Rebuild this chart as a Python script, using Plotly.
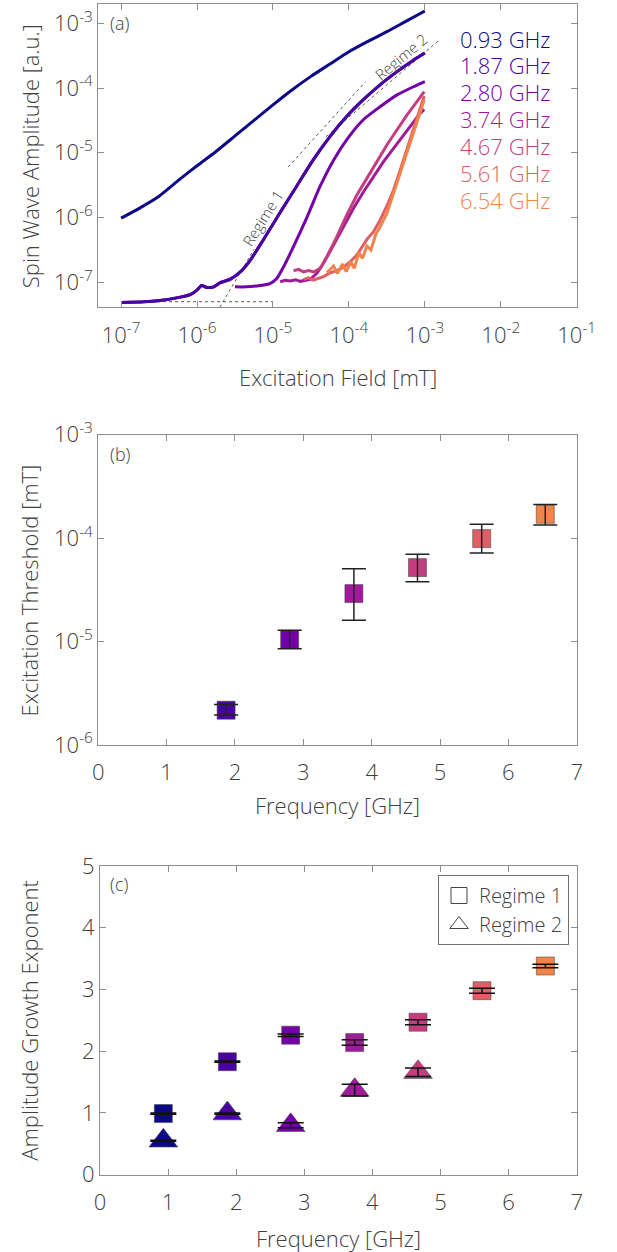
import numpy as np
import plotly.graph_objects as go

# ---------------- data ----------------
freqs = [0.93, 1.87, 2.80, 3.74, 4.67, 5.61, 6.54]
freq_labels = ["0.93 GHz", "1.87 GHz", "2.80 GHz", "3.74 GHz", "4.67 GHz", "5.61 GHz", "6.54 GHz"]
colors = ["#0d0887", "#4903a0", "#7401a8", "#a01b9a", "#c43e7f", "#de5f65", "#f2844b"]

# panel (a): log10 of excitation field [mT] and log10 of spin wave amplitude [a.u.]
logB_093 = [-7.0, -6.75, -6.5, -6.25, -6.0, -5.75, -5.5, -5.25, -5.0, -4.75, -4.5, -4.25, -4.0, -3.75, -3.5, -3.25, -3.0]
logA_093 = [-6.01, -5.85, -5.67, -5.43, -5.20, -4.98, -4.74, -4.50, -4.26, -4.03, -3.82, -3.63, -3.44, -3.28, -3.13, -2.97, -2.81]

logB_187 = [-7.0, -6.7, -6.49, -6.27, -6.09, -6.0, -5.94, -5.87, -5.78, -5.70, -5.56, -5.43, -5.30, -5.13, -4.91, -4.69, -4.47, -4.25, -4.03, -3.81, -3.59, -3.37, -3.15, -3.0]
logA_187 = [-7.31, -7.30, -7.28, -7.24, -7.19, -7.12, -7.05, -7.08, -7.07, -7.01, -6.95, -6.84, -6.66, -6.35, -5.93, -5.52, -5.11, -4.75, -4.44, -4.18, -3.95, -3.75, -3.57, -3.46]

logB_280 = [-5.50, -5.35, -5.17, -5.04, -4.95, -4.86, -4.73, -4.55, -4.38, -4.20, -4.03, -3.81, -3.59, -3.37, -3.15, -3.0]
logA_280 = [-7.07, -7.07, -7.05, -7.02, -6.94, -6.76, -6.45, -5.99, -5.52, -5.11, -4.80, -4.49, -4.29, -4.11, -3.98, -3.90]

logB_374 = [-4.905, -4.84, -4.773, -4.70, -4.641, -4.57, -4.510, -4.422, -4.334, -4.202, -4.071, -3.939, -3.807, -3.675, -3.544, -3.412, -3.280, -3.148, -3.061, -3.008]
logA_374 = [-6.991, -6.97, -6.980, -6.96, -6.985, -6.97, -6.954, -6.862, -6.707, -6.424, -6.141, -5.858, -5.601, -5.369, -5.137, -4.931, -4.725, -4.519, -4.391, -4.329]

logB_467 = [-4.729, -4.66, -4.598, -4.53, -4.466, -4.378, -4.290, -4.158, -4.027, -3.895, -3.763, -3.631, -3.500, -3.368, -3.236, -3.104, -3.008]
logA_467 = [-6.821, -6.80, -6.841, -6.82, -6.841, -6.785, -6.604, -6.296, -5.961, -5.652, -5.395, -5.137, -4.880, -4.648, -4.417, -4.211, -4.056]

logB_561 = [-4.598, -4.53, -4.466, -4.40, -4.334, -4.246, -4.158, -4.071, -3.983, -3.895, -3.829, -3.763, -3.675, -3.588, -3.500, -3.412, -3.324, -3.236, -3.148, -3.061, -3.008]
logA_561 = [-6.955, -6.93, -6.965, -6.94, -6.913, -6.852, -6.821, -6.769, -6.682, -6.579, -6.450, -6.337, -6.218, -6.038, -5.822, -5.575, -5.266, -4.957, -4.648, -4.339, -4.123]

logB_654 = [-4.290, -4.202, -4.150, -4.084, -4.035, -3.974, -3.930, -3.869, -3.820, -3.763, -3.710, -3.645, -3.588, -3.500, -3.412, -3.324, -3.236, -3.148, -3.061, -3.008]
logA_654 = [-6.852, -6.749, -6.862, -6.718, -6.836, -6.682, -6.785, -6.543, -6.630, -6.440, -6.501, -6.254, -6.141, -5.935, -5.626, -5.317, -5.009, -4.700, -4.365, -4.185]

curves_logB = [logB_093, logB_187, logB_280, logB_374, logB_467, logB_561, logB_654]
curves_logA = [logA_093, logA_187, logA_280, logA_374, logA_467, logA_561, logA_654]

# dotted guide lines in panel (a) (log10 units)
floor_logB = [-7.0, -5.0]
floor_logA = [-7.30, -7.30]
reg1_guide_logB = [-5.70, -5.25]
reg1_guide_logA = [-7.386, -6.49]
reg2_guideA_logB = [-4.80, -3.78]
reg2_guideA_logA = [-5.22, -3.90]
reg2_guideB_logB = [-4.30, -2.82]
reg2_guideB_logA = [-4.75, -3.27]

# panel (b): excitation threshold [mT]
thr_freqs = [1.87, 2.80, 3.74, 4.67, 5.61, 6.54]
thr = [2.17e-6, 1.05e-5, 2.91e-5, 5.19e-5, 9.9e-5, 1.70e-4]
thr_hi = [2.47e-6, 1.29e-5, 5.07e-5, 6.98e-5, 1.36e-4, 2.12e-4]
thr_lo = [1.95e-6, 8.5e-6, 1.61e-5, 3.78e-5, 7.18e-5, 1.34e-4]

# panel (c): amplitude growth exponent
reg1 = [0.99, 1.83, 2.26, 2.14, 2.47, 2.98, 3.38]
reg1_err = [0.01, 0.01, 0.02, 0.045, 0.04, 0.04, 0.03]
reg2_freqs = [0.93, 1.87, 2.80, 3.74, 4.67]
reg2 = [0.55, 0.99, 0.80, 1.37, 1.66]
reg2_err = [0.01, 0.01, 0.04, 0.095, 0.07]

log_ticks_a_x = [1e-7, 1e-6, 1e-5, 1e-4, 1e-3, 1e-2, 1e-1]
log_ticktext_a_x = ["10<sup>-7</sup>", "10<sup>-6</sup>", "10<sup>-5</sup>", "10<sup>-4</sup>", "10<sup>-3</sup>", "10<sup>-2</sup>", "10<sup>-1</sup>"]
log_ticks_a_y = [1e-7, 1e-6, 1e-5, 1e-4, 1e-3]
log_ticktext_a_y = ["10<sup>-7</sup>", "10<sup>-6</sup>", "10<sup>-5</sup>", "10<sup>-4</sup>", "10<sup>-3</sup>"]
log_ticks_b_y = [1e-6, 1e-5, 1e-4, 1e-3]
log_ticktext_b_y = ["10<sup>-6</sup>", "10<sup>-5</sup>", "10<sup>-4</sup>", "10<sup>-3</sup>"]

# ---------------- figure ----------------
W, H = 617, 1252
FONT = "Open Sans"
TXT = "#404040"
AX = "#8e8e8e"

fig = go.Figure()

# panel (a) curves
for i in range(len(freqs)):
    fig.add_trace(go.Scatter(
        x=np.power(10.0, curves_logB[i]), y=np.power(10.0, curves_logA[i]),
        mode="lines", line=dict(color=colors[i], width=3,
                                shape="spline" if i < 3 else "linear", smoothing=0.6),
        xaxis="x", yaxis="y", showlegend=False, hoverinfo="skip"))

for gx, gy in [(floor_logB, floor_logA), (reg1_guide_logB, reg1_guide_logA),
               (reg2_guideA_logB, reg2_guideA_logA), (reg2_guideB_logB, reg2_guideB_logA)]:
    fig.add_trace(go.Scatter(
        x=np.power(10.0, gx), y=np.power(10.0, gy), mode="lines",
        line=dict(color="#555555", width=1, dash="dot"),
        xaxis="x", yaxis="y", showlegend=False, hoverinfo="skip"))

# bring the 1.87 GHz curve over its guide line
fig.add_trace(go.Scatter(
    x=np.power(10.0, logB_187), y=np.power(10.0, logA_187), mode="lines",
    line=dict(color=colors[1], width=3, shape="spline", smoothing=0.6),
    xaxis="x", yaxis="y", showlegend=False, hoverinfo="skip"))

# panel (b)
thr_arr = np.array(thr)
fig.add_trace(go.Scatter(
    x=thr_freqs, y=thr, mode="markers",
    marker=dict(symbol="square", size=18, color=colors[1:],
                line=dict(color="rgba(70,70,70,0.55)", width=1)),
    xaxis="x2", yaxis="y2", showlegend=False, hoverinfo="skip"))
fig.add_trace(go.Scatter(
    x=thr_freqs, y=thr, mode="markers",
    marker=dict(size=2, color="rgba(0,0,0,0)"),
    error_y=dict(type="data", symmetric=False,
                 array=list(np.array(thr_hi) - thr_arr),
                 arrayminus=list(thr_arr - np.array(thr_lo)),
                 color="#222222", thickness=1.5, width=12),
    xaxis="x2", yaxis="y2", showlegend=False, hoverinfo="skip"))

# panel (c)
fig.add_trace(go.Scatter(
    x=freqs, y=reg1, mode="markers",
    marker=dict(symbol="square", size=18, color=colors,
                line=dict(color="rgba(70,70,70,0.55)", width=1)),
    xaxis="x3", yaxis="y3", showlegend=False, hoverinfo="skip"))
fig.add_trace(go.Scatter(
    x=reg2_freqs, y=reg2, mode="markers",
    marker=dict(symbol="triangle-up", size=25, color=colors[:5],
                line=dict(color="rgba(70,70,70,0.55)", width=1)),
    xaxis="x3", yaxis="y3", showlegend=False, hoverinfo="skip"))
fig.add_trace(go.Scatter(
    x=freqs, y=reg1, mode="markers", marker=dict(size=2, color="rgba(0,0,0,0)"),
    error_y=dict(type="data", array=reg1_err, color="#111111", thickness=1.5, width=13),
    xaxis="x3", yaxis="y3", showlegend=False, hoverinfo="skip"))
fig.add_trace(go.Scatter(
    x=reg2_freqs, y=reg2, mode="markers", marker=dict(size=2, color="rgba(0,0,0,0)"),
    error_y=dict(type="data", array=reg2_err, color="#111111", thickness=1.5, width=13),
    xaxis="x3", yaxis="y3", showlegend=False, hoverinfo="skip"))

# legend entries for (c)
fig.add_trace(go.Scatter(
    x=[None], y=[None], mode="markers", name="Regime 1",
    marker=dict(symbol="square", size=18, color="white", line=dict(color="#444444", width=1)),
    xaxis="x3", yaxis="y3", showlegend=True))
fig.add_trace(go.Scatter(
    x=[None], y=[None], mode="markers", name="Regime 2",
    marker=dict(symbol="triangle-up", size=24, color="white", line=dict(color="#444444", width=1)),
    xaxis="x3", yaxis="y3", showlegend=True))

# ---------------- layout ----------------
def px_x(X):
    return X / W

def px_y(Y):
    return 1 - Y / H

dom_ab = [px_x(98.3), px_x(576.7)]
dom_c = [px_x(100.0), px_x(576.7)]
dom_a_y = [px_y(307.3), px_y(4.3)]
dom_b_y = [px_y(745.0), px_y(434.7)]
dom_c_y = [px_y(1174.7), px_y(866.0)]

common = dict(showline=True, linecolor=AX, linewidth=1, mirror="ticks", ticks="inside",
              ticklen=6, tickcolor=AX, tickwidth=1, showgrid=False, zeroline=False,
              automargin=False,
              tickfont=dict(family=FONT, size=22, color=TXT, weight=300))
xcommon = dict(common, ticklabelstandoff=8)
ycommon = dict(common, ticklabelstandoff=0)

fig.update_layout(
    template="none",
    width=W, height=H, margin=dict(l=0, r=0, t=0, b=0, autoexpand=False),
    paper_bgcolor="white", plot_bgcolor="white",
    font=dict(family=FONT, color=TXT, size=20, weight=300),
    xaxis=dict(domain=dom_ab, anchor="y", type="log", range=[-7.3, -1.0],
               tickvals=log_ticks_a_x, ticktext=log_ticktext_a_x, **xcommon),
    yaxis=dict(domain=dom_a_y, anchor="x", type="log", range=[-7.386, -2.707],
               tickvals=log_ticks_a_y, ticktext=log_ticktext_a_y, **ycommon),
    xaxis2=dict(domain=dom_ab, anchor="y2", range=[0, 7], dtick=1, tick0=0, **xcommon),
    yaxis2=dict(domain=dom_b_y, anchor="x2", type="log", range=[-6, -3],
                tickvals=log_ticks_b_y, ticktext=log_ticktext_b_y, **ycommon),
    xaxis3=dict(domain=dom_c, anchor="y3", range=[0, 7], dtick=1, tick0=0, **xcommon),
    yaxis3=dict(domain=dom_c_y, anchor="x3", range=[0, 5], dtick=1, tick0=0, **ycommon),
    legend=dict(x=px_x(569), y=px_y(875), xanchor="right", yanchor="top",
                bordercolor="#707070", borderwidth=1, bgcolor="white",
                font=dict(family=FONT, size=20, color=TXT, weight=300), itemsizing="trace",
                tracegroupgap=0),
)

ann = []
# axis titles
ann.append(dict(text="Excitation Field [mT]", x=(dom_ab[0] + dom_ab[1]) / 2, y=px_y(377),
                xref="paper", yref="paper", showarrow=False, font=dict(size=22),
                xanchor="center", yanchor="middle"))
ann.append(dict(text="Frequency [GHz]", x=(dom_ab[0] + dom_ab[1]) / 2, y=px_y(805),
                xref="paper", yref="paper", showarrow=False, font=dict(size=22),
                xanchor="center", yanchor="middle"))
ann.append(dict(text="Frequency [GHz]", x=(dom_c[0] + dom_c[1]) / 2, y=px_y(1237.5),
                xref="paper", yref="paper", showarrow=False, font=dict(size=22),
                xanchor="center", yanchor="middle"))
ann.append(dict(text="Spin Wave Amplitude [a.u.]", x=px_x(29.4), y=px_y(155.8), textangle=-90,
                xref="paper", yref="paper", showarrow=False, font=dict(size=22),
                xanchor="center", yanchor="middle"))
ann.append(dict(text="Excitation Threshold [mT]", x=px_x(29.4), y=px_y(590), textangle=-90,
                xref="paper", yref="paper", showarrow=False, font=dict(size=22),
                xanchor="center", yanchor="middle"))
ann.append(dict(text="Amplitude Growth Exponent", x=px_x(29.4), y=px_y(1020.4), textangle=-90,
                xref="paper", yref="paper", showarrow=False, font=dict(size=22),
                xanchor="center", yanchor="middle"))
# panel labels
for lab, Y in [("(a)", 23.5), ("(b)", 454), ("(c)", 883.5)]:
    ann.append(dict(text=lab, x=px_x(108), y=px_y(Y), xanchor="left", yanchor="middle",
                    xref="paper", yref="paper", showarrow=False, font=dict(size=18)))
# frequency labels in (a)
label_Y = [38.7, 65.4, 92.2, 118.9, 145.6, 173.0, 199.7]
for i in range(len(freqs)):
    ann.append(dict(text=freq_labels[i], x=px_x(553), y=px_y(label_Y[i]), xanchor="right",
                    yanchor="middle", xref="paper", yref="paper", showarrow=False,
                    font=dict(size=22, color=colors[i])))
# regime labels in (a)
ann.append(dict(text="Regime 1", x=-5.14, y=-6.0, xref="x", yref="y", textangle=-58,
                showarrow=False, font=dict(size=15, color="#444444")))
ann.append(dict(text="Regime 2", x=-3.32, y=-3.52, xref="x", yref="y", textangle=-40,
                showarrow=False, font=dict(size=15, color="#444444")))
fig.update_layout(annotations=ann)

fig.write_html("out.html", config={"displayModeBar": False},
               post_script="document.body.style.margin='0px';")
